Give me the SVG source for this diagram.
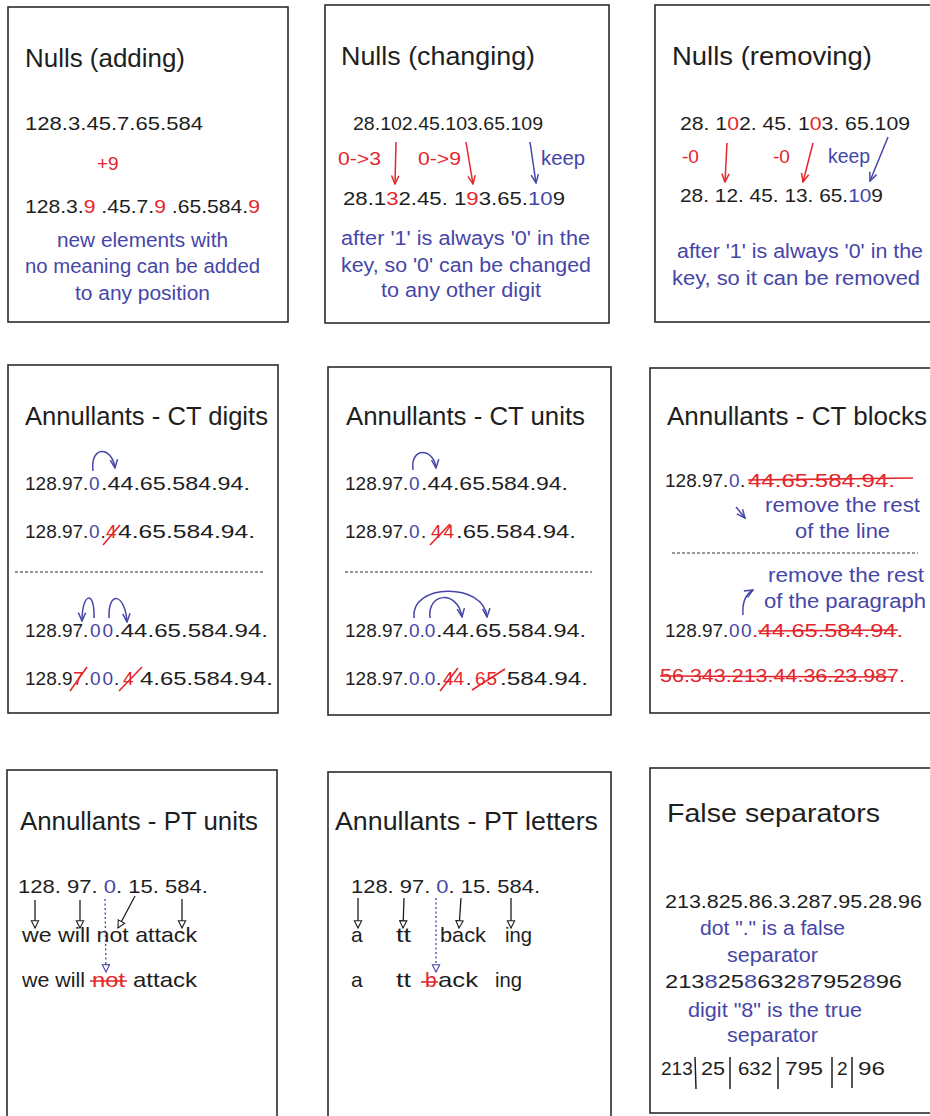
<svg xmlns="http://www.w3.org/2000/svg" width="930" height="1116" viewBox="0 0 930 1116">
<style>
text{font-family:"Liberation Sans","Open Sans",sans-serif;fill:#1e1e1e}
.t{font-size:25px}
.n{font-size:19px}
.w{font-size:21px}
.b{font-size:20px;fill:#4646a8}
.r{fill:#e3262b}
.bl{fill:#4646a8}
.box{fill:#ffffff;stroke:#2b2b2b;stroke-width:1.6}
.dash{stroke:#333;stroke-width:1;stroke-dasharray:3 2}
.strike{stroke:#e3262b;stroke-width:1.6;fill:none}
.ak{stroke:#1e1e1e;stroke-width:1.3;fill:none}
.ar{stroke:#e3262b;stroke-width:1.5;fill:none}
.ab{stroke:#4646a8;stroke-width:1.5;fill:none}
.dot{stroke:#4646a8;stroke-width:1.3;fill:none;stroke-dasharray:2 2.5}
</style>
<defs>
<marker id="mk" viewBox="0 0 10 10" refX="9" refY="5" markerWidth="7" markerHeight="7" orient="auto"><path d="M1,1 L9,5 L1,9 Z" fill="#fff" stroke="#1e1e1e" stroke-width="1.2"/></marker>
<marker id="mr" viewBox="0 0 10 10" refX="9" refY="5" markerWidth="7" markerHeight="7" orient="auto"><path d="M1,1.5 L9,5 L1,8.5" fill="none" stroke="#e3262b" stroke-width="1.4"/></marker>
<marker id="mb" viewBox="0 0 10 10" refX="9" refY="5" markerWidth="7" markerHeight="7" orient="auto"><path d="M1,1.5 L9,5 L1,8.5" fill="none" stroke="#4646a8" stroke-width="1.4"/></marker>
<marker id="mbt" viewBox="0 0 10 10" refX="9" refY="5" markerWidth="7" markerHeight="7" orient="auto"><path d="M1,1 L9,5 L1,9 Z" fill="#fff" stroke="#4646a8" stroke-width="1.2"/></marker>
</defs>
<rect width="930" height="1116" fill="#ffffff"/>

<g id="nulls-adding">
<rect class="box" x="8" y="7" width="280" height="315"/>
<text class="t" x="25" y="67" textLength="160" lengthAdjust="spacingAndGlyphs">Nulls (adding)</text>
<text class="n" x="25" y="130" textLength="178" lengthAdjust="spacingAndGlyphs">128.3.45.7.65.584</text>
<text class="n r" x="97" y="170">+9</text>
<text class="n" x="25" y="213" textLength="235" lengthAdjust="spacingAndGlyphs">128.3.<tspan class="r">9</tspan> .45.7.<tspan class="r">9</tspan> .65.584.<tspan class="r">9</tspan></text>
<text class="b" x="57" y="247" textLength="171" lengthAdjust="spacingAndGlyphs">new elements with</text>
<text class="b" x="25" y="273" textLength="235" lengthAdjust="spacingAndGlyphs">no meaning can be added</text>
<text class="b" x="75" y="300" textLength="135" lengthAdjust="spacingAndGlyphs">to any position</text>
</g>

<g id="nulls-changing">
<rect class="box" x="325" y="5" width="284" height="318"/>
<text class="t" x="341" y="65" textLength="194" lengthAdjust="spacingAndGlyphs">Nulls (changing)</text>
<text class="n" x="353" y="130" textLength="190" lengthAdjust="spacingAndGlyphs">28.102.45.103.65.109</text>
<text class="n r" x="338" y="165" textLength="43" lengthAdjust="spacingAndGlyphs">0-&gt;3</text>
<text class="n r" x="418" y="165" textLength="43" lengthAdjust="spacingAndGlyphs">0-&gt;9</text>
<text class="b" x="541" y="165" textLength="44" lengthAdjust="spacingAndGlyphs">keep</text>
<text class="n" x="343" y="205" textLength="222" lengthAdjust="spacingAndGlyphs">28.1<tspan class="r">3</tspan>2.45. 1<tspan class="r">9</tspan>3.65.<tspan class="bl">10</tspan>9</text>
<text class="b" x="341" y="245" textLength="249" lengthAdjust="spacingAndGlyphs">after '1' is always '0' in the</text>
<text class="b" x="341" y="272" textLength="250" lengthAdjust="spacingAndGlyphs">key, so '0' can be changed</text>
<text class="b" x="381" y="297" textLength="160" lengthAdjust="spacingAndGlyphs">to any other digit</text>
</g>

<g id="nulls-removing">
<rect class="box" x="655" y="5" width="290" height="317"/>
<text class="t" x="672" y="65" textLength="200" lengthAdjust="spacingAndGlyphs">Nulls (removing)</text>
<text class="n" x="680" y="130" textLength="230" lengthAdjust="spacingAndGlyphs">28. 1<tspan class="r">0</tspan>2. 45. 1<tspan class="r">0</tspan>3. 65.109</text>
<text class="n r" x="682" y="163">-0</text>
<text class="n r" x="773" y="163">-0</text>
<text class="b" x="828" y="163" textLength="42" lengthAdjust="spacingAndGlyphs">keep</text>
<text class="n" x="680" y="202" textLength="203" lengthAdjust="spacingAndGlyphs">28. 12. 45. 13. 65.<tspan class="bl">10</tspan>9</text>
<text class="b" x="677" y="258" textLength="246" lengthAdjust="spacingAndGlyphs">after '1' is always '0' in the</text>
<text class="b" x="672" y="285" textLength="248" lengthAdjust="spacingAndGlyphs">key, so it can be removed</text>
</g>

<g id="ct-digits">
<rect class="box" x="8" y="365" width="270" height="348"/>
<text class="t" x="25" y="425" textLength="243" lengthAdjust="spacingAndGlyphs">Annullants - CT digits</text>
<text class="n" y="490"><tspan x="25">128.97.</tspan><tspan x="89" class="bl">0</tspan><tspan x="101" textLength="149" lengthAdjust="spacingAndGlyphs">.44.65.584.94.</tspan></text>
<text class="n" y="538"><tspan x="25">128.97.</tspan><tspan x="89" class="bl">0</tspan><tspan x="100.5">.</tspan><tspan x="106" class="r">4</tspan><tspan x="118" textLength="137" lengthAdjust="spacingAndGlyphs">4.65.584.94.</tspan></text>
<line class="strike" x1="103" y1="545" x2="120" y2="525"/>
<line class="dash" x1="15" y1="572" x2="265" y2="572"/>
<text class="n" y="637"><tspan x="25">128.97.</tspan><tspan x="90" class="bl" letter-spacing="2">00</tspan><tspan x="114" textLength="154" lengthAdjust="spacingAndGlyphs">.44.65.584.94.</tspan></text>
<text class="n" y="685"><tspan x="25">128.9</tspan><tspan x="73" class="r">7</tspan><tspan x="84">.</tspan><tspan x="90" class="bl" letter-spacing="2">00</tspan><tspan x="114">.</tspan><tspan x="123" class="r">4</tspan><tspan x="140" textLength="133" lengthAdjust="spacingAndGlyphs">4.65.584.94.</tspan></text>
<line class="strike" x1="70" y1="691" x2="87" y2="667"/>
<line class="strike" x1="119" y1="691" x2="142" y2="667"/>
</g>

<g id="ct-units">
<rect class="box" x="328" y="367" width="283" height="348"/>
<text class="t" x="346" y="425" textLength="239" lengthAdjust="spacingAndGlyphs">Annullants - CT units</text>
<text class="n" y="490"><tspan x="345">128.97.</tspan><tspan x="409" class="bl">0</tspan><tspan x="421" textLength="147" lengthAdjust="spacingAndGlyphs">.44.65.584.94.</tspan></text>
<text class="n" y="538"><tspan x="345">128.97.</tspan><tspan x="409" class="bl">0</tspan><tspan x="421">.</tspan><tspan x="431" class="r" letter-spacing="2">44</tspan><tspan x="456" textLength="120" lengthAdjust="spacingAndGlyphs">.65.584.94.</tspan></text>
<line class="strike" x1="430" y1="545" x2="450" y2="524"/>
<line class="dash" x1="345" y1="572" x2="592" y2="572"/>
<text class="n" y="637"><tspan x="345">128.97.</tspan><tspan x="409" class="bl">0.0</tspan><tspan x="436" textLength="150" lengthAdjust="spacingAndGlyphs">.44.65.584.94.</tspan></text>
<text class="n" y="685"><tspan x="345">128.97.</tspan><tspan x="409" class="bl">0.0</tspan><tspan x="436">.</tspan><tspan x="443" class="r">44</tspan><tspan x="466">.</tspan><tspan x="475" class="r" letter-spacing="1">65</tspan><tspan x="500" textLength="88" lengthAdjust="spacingAndGlyphs">.584.94.</tspan></text>
<line class="strike" x1="440" y1="691" x2="458" y2="668"/>
<line class="strike" x1="472" y1="690" x2="505" y2="669"/>
</g>

<g id="ct-blocks">
<rect class="box" x="650" y="368" width="295" height="345"/>
<text class="t" x="667" y="425" textLength="260" lengthAdjust="spacingAndGlyphs">Annullants - CT blocks</text>
<text class="n" y="487"><tspan x="665">128.97.</tspan><tspan x="729" class="bl">0</tspan><tspan x="740">.</tspan><tspan x="748" class="r" textLength="147" lengthAdjust="spacingAndGlyphs">44.65.584.94.</tspan></text>
<line class="strike" x1="748" y1="480" x2="913" y2="478"/>
<text class="b" x="765" y="512" textLength="155" lengthAdjust="spacingAndGlyphs">remove the rest</text>
<text class="b" x="795" y="538" textLength="95" lengthAdjust="spacingAndGlyphs">of the line</text>
<line class="dash" x1="672" y1="553" x2="918" y2="553"/>
<text class="b" x="768" y="582" textLength="156" lengthAdjust="spacingAndGlyphs">remove the rest</text>
<text class="b" x="764" y="608" textLength="162" lengthAdjust="spacingAndGlyphs">of the paragraph</text>
<text class="n" y="637"><tspan x="665">128.97.</tspan><tspan x="729" class="bl" letter-spacing="1.5">00</tspan><tspan x="752" class="r" textLength="151" lengthAdjust="spacingAndGlyphs">.44.65.584.94.</tspan></text>
<line class="strike" x1="758" y1="631" x2="898" y2="630"/>
<text class="n r" x="660" y="682" textLength="245" lengthAdjust="spacingAndGlyphs">56.343.213.44.36.23.987.</text>
<line class="strike" x1="660" y1="676" x2="893" y2="677"/>
</g>

<g id="pt-units">
<rect class="box" x="7" y="770" width="270" height="360"/>
<text class="t" x="20" y="830" textLength="238" lengthAdjust="spacingAndGlyphs">Annullants - PT units</text>
<text class="n" x="18" y="893" textLength="190" lengthAdjust="spacingAndGlyphs">128. 97. <tspan class="bl">0</tspan>. 15. 584.</text>
<text class="w" x="22" y="942" textLength="175" lengthAdjust="spacingAndGlyphs">we will not attack</text>
<text class="w" y="987"><tspan x="22" textLength="63" lengthAdjust="spacingAndGlyphs">we will</tspan><tspan x="92" class="r" textLength="33" lengthAdjust="spacingAndGlyphs">not</tspan><tspan x="133" textLength="64" lengthAdjust="spacingAndGlyphs">attack</tspan></text>
<line class="strike" x1="90" y1="981" x2="127" y2="981"/>
</g>

<g id="pt-letters">
<rect class="box" x="328" y="772" width="283" height="360"/>
<text class="t" x="335" y="830" textLength="263" lengthAdjust="spacingAndGlyphs">Annullants - PT letters</text>
<text class="n" x="351" y="893" textLength="189" lengthAdjust="spacingAndGlyphs">128. 97. <tspan class="bl">0</tspan>. 15. 584.</text>
<text class="w" y="942"><tspan x="351">a</tspan><tspan x="396" textLength="15" lengthAdjust="spacingAndGlyphs">tt</tspan><tspan x="440" textLength="46" lengthAdjust="spacingAndGlyphs">back</tspan><tspan x="505" textLength="27" lengthAdjust="spacingAndGlyphs">ing</tspan></text>
<text class="w" y="987"><tspan x="351">a</tspan><tspan x="396" textLength="15" lengthAdjust="spacingAndGlyphs">tt</tspan><tspan x="425" class="r">b</tspan><tspan x="438" textLength="40" lengthAdjust="spacingAndGlyphs">ack</tspan><tspan x="495" textLength="27" lengthAdjust="spacingAndGlyphs">ing</tspan></text>
<line class="strike" x1="421" y1="982" x2="438" y2="982"/>
</g>

<g id="false-separators">
<rect class="box" x="650" y="768" width="295" height="345"/>
<text class="t" x="667" y="822" textLength="213" lengthAdjust="spacingAndGlyphs">False separators</text>
<text class="n" x="665" y="908" textLength="257" lengthAdjust="spacingAndGlyphs">213.825.86.3.287.95.28.96</text>
<text class="b" x="700" y="935" textLength="145" lengthAdjust="spacingAndGlyphs">dot "." is a false</text>
<text class="b" x="727" y="962" textLength="91" lengthAdjust="spacingAndGlyphs">separator</text>
<text class="n" x="665" y="988" textLength="237" lengthAdjust="spacingAndGlyphs">213<tspan class="bl">8</tspan>25<tspan class="bl">8</tspan>632<tspan class="bl">8</tspan>7952<tspan class="bl">8</tspan>96</text>
<text class="b" x="688" y="1017" textLength="174" lengthAdjust="spacingAndGlyphs">digit "8" is the true</text>
<text class="b" x="727" y="1042" textLength="91" lengthAdjust="spacingAndGlyphs">separator</text>
<text class="n" y="1075"><tspan x="661">213</tspan><tspan x="701" textLength="24" lengthAdjust="spacingAndGlyphs">25</tspan><tspan x="738" textLength="34" lengthAdjust="spacingAndGlyphs">632</tspan><tspan x="785" textLength="38" lengthAdjust="spacingAndGlyphs">795</tspan><tspan x="837">2</tspan><tspan x="858" textLength="27" lengthAdjust="spacingAndGlyphs">96</tspan></text>
<g stroke="#1e1e1e" stroke-width="1.5">
<line x1="695" y1="1057" x2="696" y2="1089"/>
<line x1="730" y1="1057" x2="730" y2="1089"/>
<line x1="778" y1="1057" x2="778" y2="1089"/>
<line x1="832" y1="1057" x2="832" y2="1088"/>
<line x1="852" y1="1057" x2="852" y2="1088"/>
</g>
</g>

<g id="connectors">
<line class="ar" x1="396" y1="142" x2="395" y2="184" marker-end="url(#mr)"/>
<line class="ar" x1="466" y1="142" x2="473" y2="184" marker-end="url(#mr)"/>
<line class="ab" x1="530" y1="142" x2="536" y2="183" marker-end="url(#mb)"/>
<line class="ar" x1="727" y1="143" x2="725" y2="182" marker-end="url(#mr)"/>
<line class="ar" x1="813" y1="143" x2="803" y2="182" marker-end="url(#mr)"/>
<line class="ab" x1="888" y1="137" x2="870" y2="181" marker-end="url(#mb)"/>
<path class="ab" d="M93,471 C90,445 112,446 115,468" marker-end="url(#mb)"/>
<path class="ab" d="M94,618 C95,590 82,592 82,621" marker-end="url(#mb)"/>
<path class="ab" d="M109,618 C108,590 125,593 127,622" marker-end="url(#mb)"/>
<path class="ab" d="M413,470 C410,446 434,448 436,468" marker-end="url(#mb)"/>
<path class="ab" d="M414,618 C410,583 484,582 487,617" marker-end="url(#mb)"/>
<path class="ab" d="M430,618 C427,592 458,590 462,617" marker-end="url(#mb)"/>
<line class="ab" x1="736" y1="507" x2="745" y2="518" marker-end="url(#mb)"/>
<path class="ab" d="M743,615 C742,602 746,594 753,590" marker-end="url(#mb)"/>
<line class="ak" x1="35" y1="900" x2="35" y2="928" marker-end="url(#mk)"/>
<line class="ak" x1="80" y1="900" x2="80" y2="928" marker-end="url(#mk)"/>
<line class="ak" x1="135" y1="896" x2="118" y2="928" marker-end="url(#mk)"/>
<line class="ak" x1="182" y1="899" x2="182" y2="928" marker-end="url(#mk)"/>
<line class="dot" x1="105" y1="899" x2="106" y2="972" marker-end="url(#mbt)"/>
<line class="ak" x1="358" y1="898" x2="358" y2="928" marker-end="url(#mk)"/>
<line class="ak" x1="404" y1="898" x2="403" y2="928" marker-end="url(#mk)"/>
<line class="ak" x1="461" y1="898" x2="459" y2="928" marker-end="url(#mk)"/>
<line class="ak" x1="511" y1="898" x2="511" y2="928" marker-end="url(#mk)"/>
<line class="dot" x1="436" y1="898" x2="436" y2="972" marker-end="url(#mbt)"/>
</g>
</svg>
